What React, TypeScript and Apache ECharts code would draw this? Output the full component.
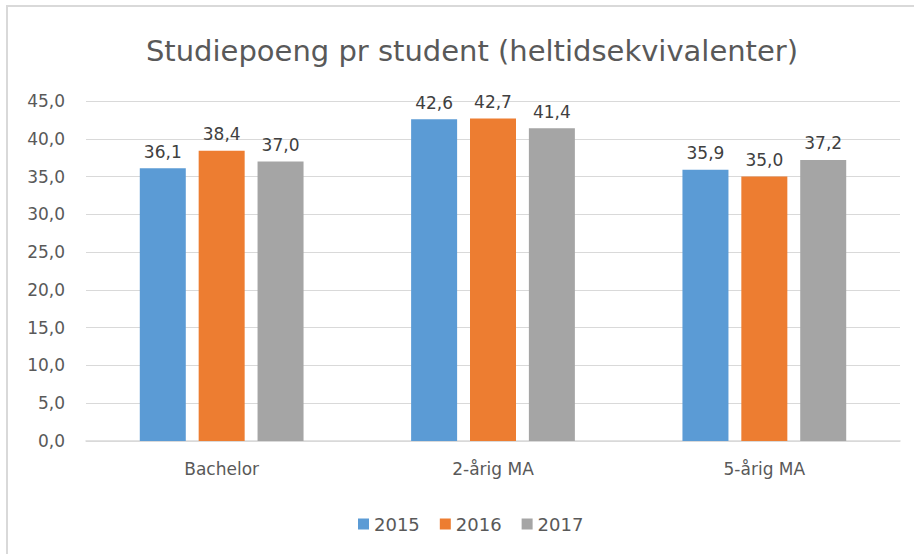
import React, { useEffect, useRef } from "react";
import * as echarts from "echarts";

const categories = ["Bachelor", "2-årig MA", "5-årig MA"];
const seriesNames = ["2015", "2016", "2017"];
const values2015 = [36.1, 42.6, 35.9];
const values2016 = [38.4, 42.7, 35.0];
const values2017 = [37.0, 41.4, 37.2];
const colors = ["#5B9BD5", "#ED7D31", "#A5A5A5"];

const fmt = (v: number) => v.toFixed(1).replace(".", ",");

export default function App() {
  const ref = useRef<HTMLDivElement>(null);
  useEffect(() => {
    document.body.style.margin = "0";
    const chart = echarts.init(ref.current!, undefined, { renderer: "svg" });
    const font = "DejaVu Sans";
    const data = [values2015, values2016, values2017];
    chart.setOption({
      animation: false,
      backgroundColor: "#ffffff",
      title: {
        text: "Studiepoeng pr student (heltidsekvivalenter)",
        left: 467,
        textAlign: "center",
        top: 31,
        textStyle: { fontFamily: font, fontSize: 29, fontWeight: "normal", color: "#595959" },
      },
      legend: {
        data: seriesNames,
        left: 353,
        top: 510,
        icon: "rect",
        itemWidth: 11,
        itemHeight: 11,
        itemGap: 20,
        textStyle: { fontFamily: font, fontSize: 18, color: "#595959" },
      },
      graphic: [
        {
          type: "rect",
          shape: { x: 7, y: 6, width: 930, height: 570 },
          style: { fill: "none", stroke: "#D9D9D9", lineWidth: 2 },
        },
      ],
      grid: { left: 86, right: 14, top: 101, bottom: 113, containLabel: false },
      xAxis: {
        type: "category",
        data: categories,
        axisLine: { lineStyle: { color: "#D9D9D9", width: 1.5 } },
        axisTick: { show: false },
        axisLabel: { fontFamily: font, fontSize: 17, color: "#595959", margin: 19 },
      },
      yAxis: {
        type: "value",
        min: 0,
        max: 45,
        interval: 5,
        axisLine: { show: false },
        axisTick: { show: false },
        splitLine: { lineStyle: { color: "#D9D9D9", width: 1 } },
        axisLabel: {
          fontFamily: font,
          fontSize: 17,
          color: "#595959",
          margin: 21,
          formatter: (v: number) => fmt(v),
        },
      },
      series: seriesNames.map((name, i) => ({
        name,
        type: "bar",
        data: data[i],
        barWidth: 46,
        barGap: "28%",
        itemStyle: { color: colors[i] },
        label: {
          show: true,
          position: "top",
          distance: 8,
          fontFamily: font,
          fontSize: 17,
          color: "#404040",
          formatter: (p: any) => fmt(p.value),
        },
      })),
    });
    return () => chart.dispose();
  }, []);
  return <div ref={ref} style={{ width: 914, height: 554 }} />;
}
